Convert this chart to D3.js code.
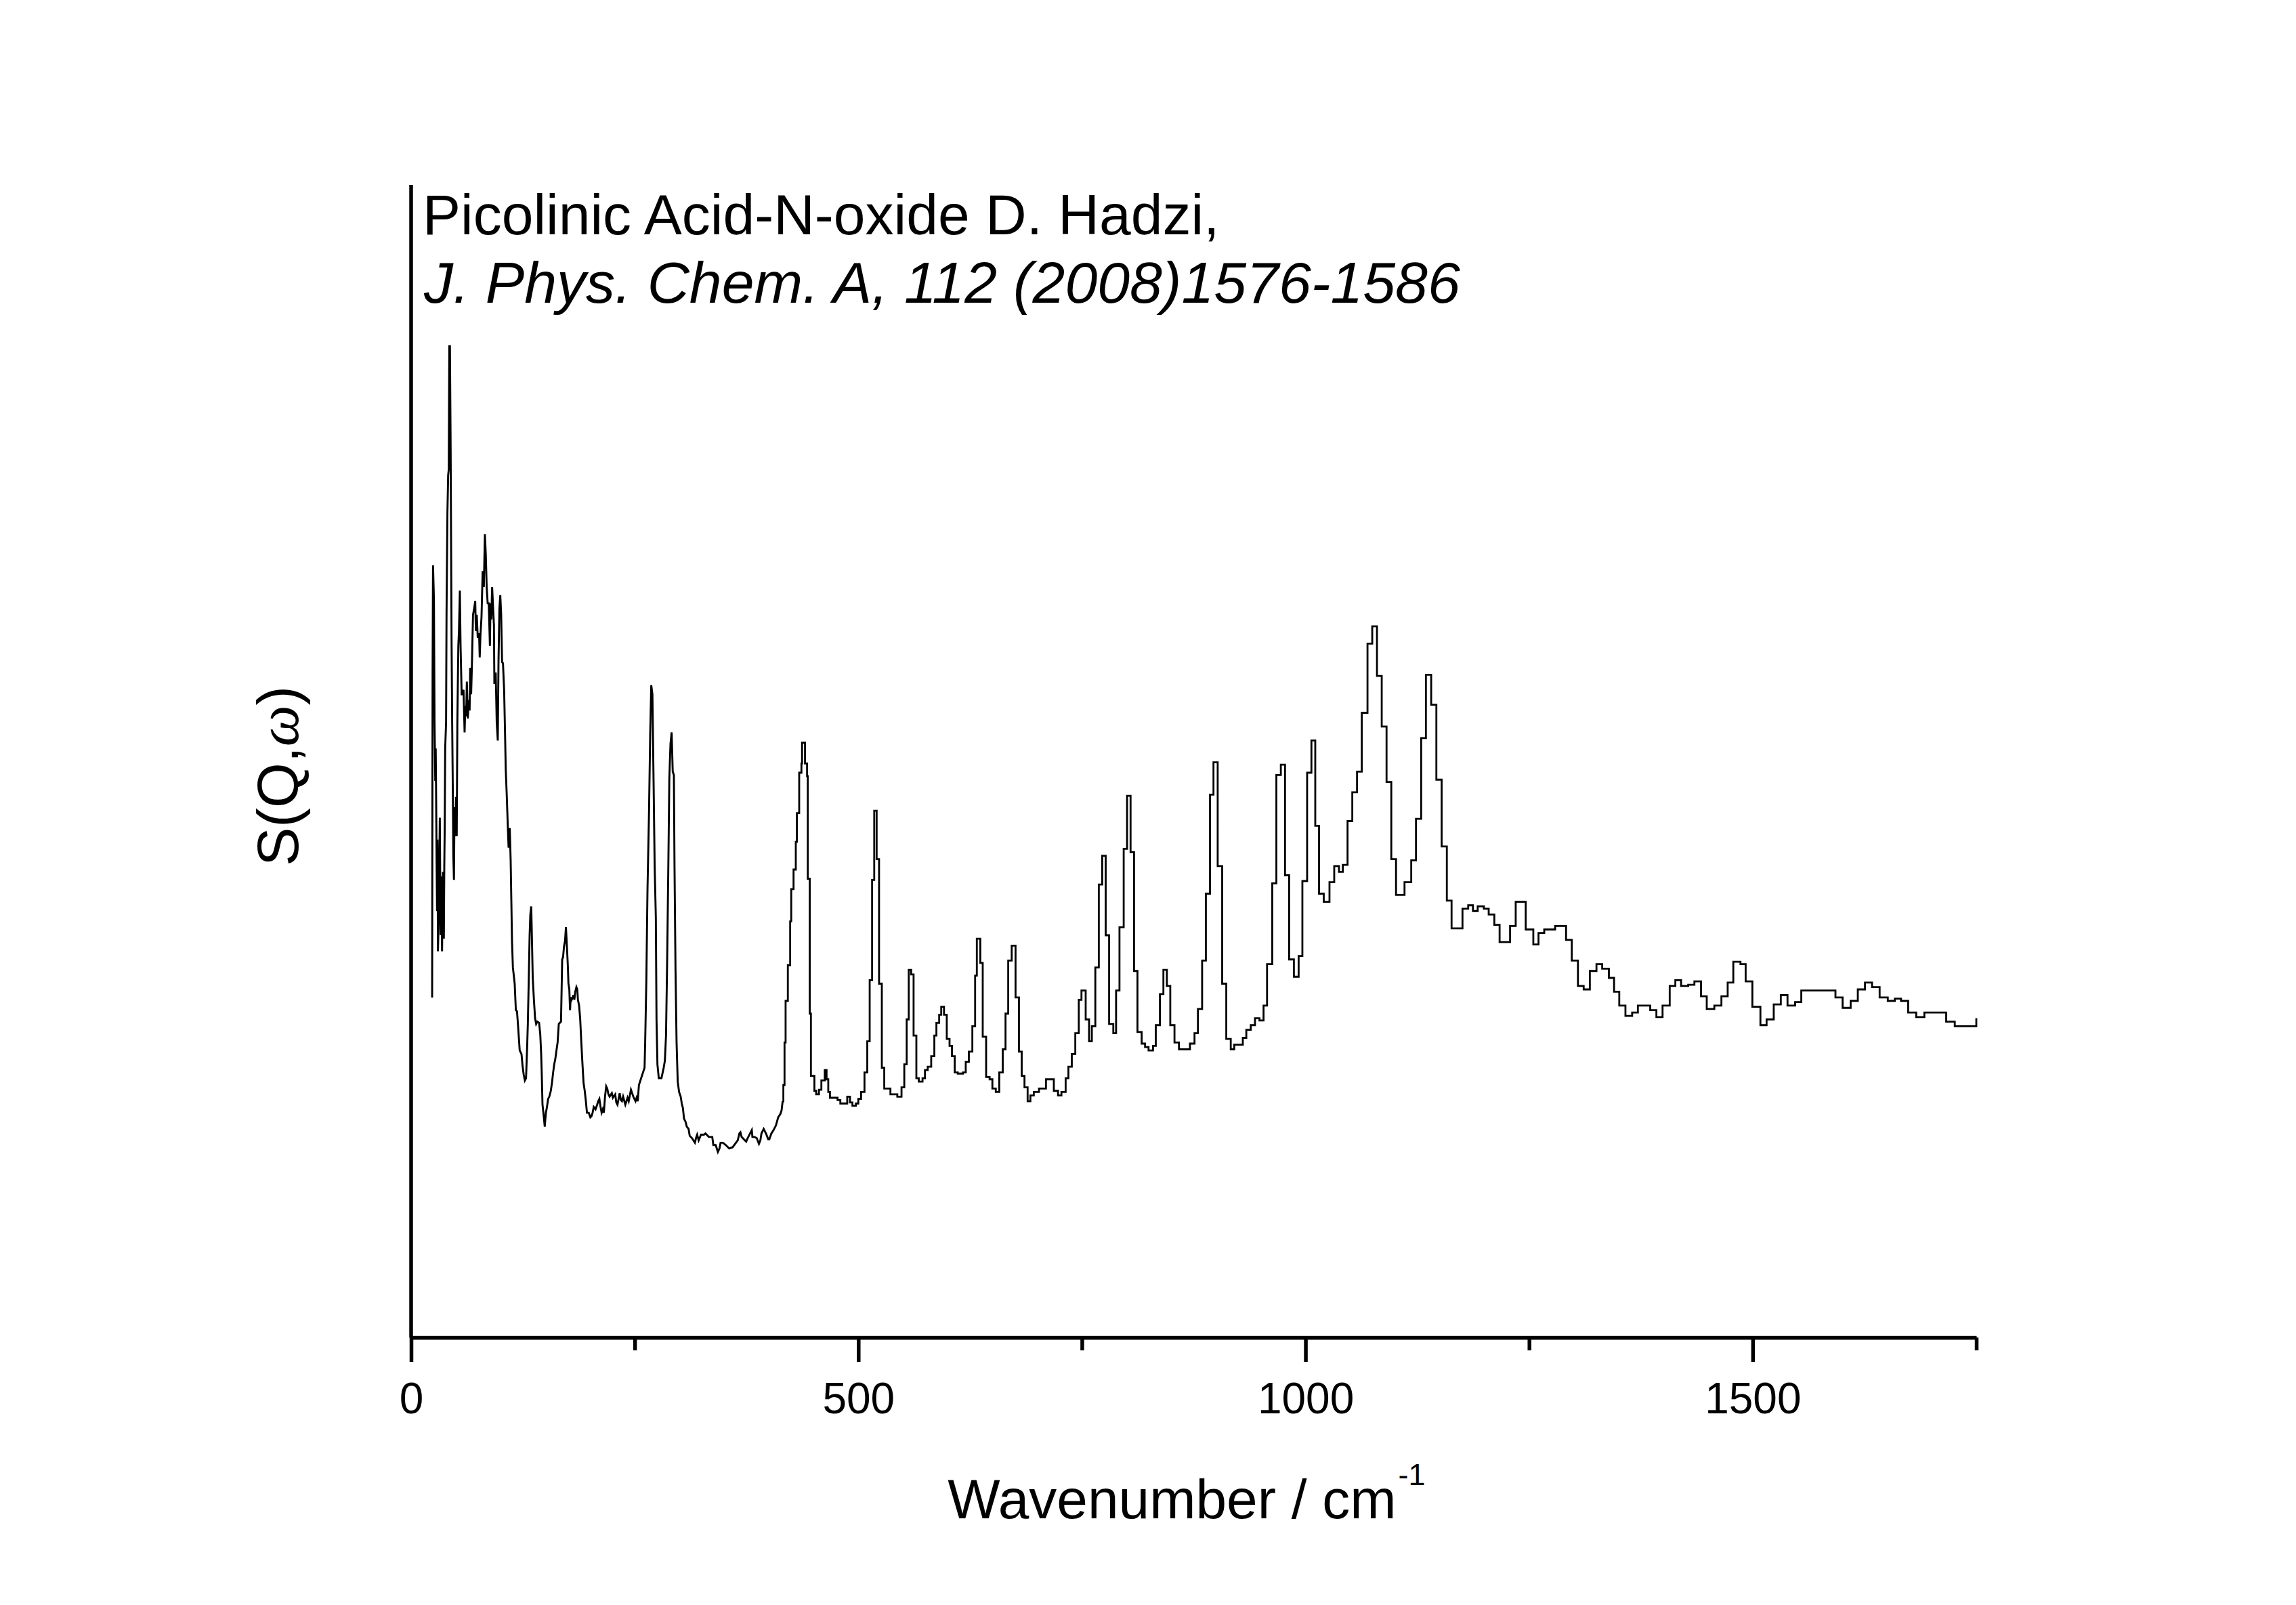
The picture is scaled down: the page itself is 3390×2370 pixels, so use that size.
<!DOCTYPE html>
<html><head><meta charset="utf-8">
<script src="https://cdn.jsdelivr.net/npm/d3@7"></script>
<style>html,body{margin:0;padding:0;background:#fff}</style>
</head><body>
<script>
// ---------------- data ----------------
const titleLine1 = "Picolinic Acid-N-oxide D. Hadzi,";
const titleLine2 = "J. Phys. Chem. A, 112 (2008)1576-1586";
const xLabel = "Wavenumber / cm";
const xLabelSup = "-1";
const xTickValues = [0, 250, 500, 750, 1000, 1250, 1500, 1750];
const xTickLabels = ["0", "", "500", "", "1000", "", "1500", ""];
const xDomain = [0, 1750];
const yDomain = [0, 100];

// fine-resolution part (drawn as a polyline)
const waveLow = [23.5,24.0,24.5,25.5,26.2,27.0,27.5,28.0,28.5,29.0,29.5,30.0,31.0,32.1,32.6,33.1,33.8,34.6,35.6,36.6,37.1,37.6,38.1,39.1,39.6,40.6,41.4,42.1,42.7,43.4,44.2,44.7,45.2,45.9,46.7,47.2,47.9,48.5,49.5,50.2,51.0,51.7,52.8,53.5,54.5,55.3,56.5,57.8,58.6,59.8,60.6,61.6,62.3,63.4,64.4,65.4,66.1,67.1,67.9,69.2,70.4,71.7,72.4,73.4,74.5,76.0,76.7,77.5,78.7,80.0,81.3,82.5,83.5,84.5,85.6,86.8,88.1,88.8,89.6,90.6,91.6,92.6,93.1,94.6,95.7,96.9,97.7,98.7,99.7,100.7,101.7,102.7,104.0,105.0,105.8,107.0,108.3,109.0,110.3,111.3,112.1,112.8,113.8,115.8,117.1,118.4,119.6,121.4,123.4,124.7,125.9,127.2,128.5,129.7,130.5,131.5,132.5,133.3,134.3,135.0,136.0,137.3,138.6,139.8,141.1,143.1,144.4,145.4,146.1,146.9,148.2,149.4,150.7,151.9,153.2,154.5,156.2,157.5,158.8,160.0,161.3,162.5,163.8,165.1,166.3,167.6,168.9,169.9,170.9,172.1,173.1,173.9,175.2,175.9,176.9,177.7,178.4,179.5,180.7,181.5,182.5,183.5,184.8,185.8,186.5,187.8,189.0,190.3,191.6,192.8,194.1,195.4,196.6,198.6,200.4,201.7,202.9,204.2,206.2,208.0,209.2,210.5,211.8,213.0,214.3,215.5,216.8,218.1,219.3,220.6,221.9,224.4,225.6,228.2,229.4,230.7,233.2,234.5,235.7,237.0,239.5,242.0,243.3,245.8,248.4,250.9,252.1,253.4,254.7,257.2,259.7,261.0,261.7,263.0,264.3,266.0,267.3,268.5,269.8,271.1,272.3,273.6,274.4,275.4,276.9,279.9,282.4,283.7,285.0,286.2,287.5,288.7,290.0,291.3,292.5,293.8,294.5,295.6,296.8,298.1,299.6,301.4,302.6,303.9,305.1,306.9,308.2,310.2,311.5,314.0,317.3,318.5,319.8,321.5,324.1,327.4,329.1,332.9,336.7,337.9,340.5,343.0,344.8,346.0,348.6,351.8,355.6,359.4,363.2,365.2,367.0,368.2,369.5,373.3,374.6,376.3,379.6,380.9,381.6,383.9,386.4,388.9,390.5,391.7,394.2,396.8,399.3,400.5,402.8,405.3,407.9,410.4,412.9,414.2,415.4];
const intLow = [29.5,57.4,67.0,64.1,53.4,48.3,51.1,46.5,41.4,37.0,43.2,33.5,36.7,45.1,39.0,34.9,40.0,33.5,40.4,34.6,40.9,44.4,51.1,53.4,62.7,71.6,74.8,75.3,86.0,86.0,77.1,68.8,60.9,53.4,46.9,41.8,39.7,46.0,43.5,46.9,43.5,53.4,60.0,61.3,64.8,60.0,55.8,55.8,56.2,52.5,54.8,53.9,56.9,53.7,55.3,54.4,58.1,55.8,58.1,62.7,63.2,63.9,61.3,62.7,60.7,61.1,59.0,60.9,62.5,66.5,65.1,69.7,67.9,65.1,63.7,63.7,60.0,63.7,62.3,65.1,63.4,61.8,56.7,57.7,53.4,51.8,58.6,63.2,64.4,62.7,58.6,58.5,56.2,52.5,49.3,46.9,43.9,42.5,44.2,41.4,37.7,34.4,32.1,30.7,28.4,28.3,27.0,24.9,24.6,23.5,22.8,22.3,22.5,25.1,27.2,30.9,34.9,36.7,37.4,34.9,31.2,29.3,27.7,27.2,27.4,27.3,26.3,24.6,22.8,20.2,19.3,18.3,19.5,20.0,20.7,20.9,21.4,22.1,23.0,23.7,24.2,24.9,25.6,27.2,27.3,27.4,32.8,33.0,33.9,34.4,35.6,34.4,32.3,30.7,30.2,28.4,29.5,29.3,29.5,29.7,29.3,30.0,30.4,30.2,29.3,28.8,27.7,25.6,23.7,22.1,21.4,20.5,19.5,19.5,19.1,19.2,19.5,20.0,19.8,20.2,20.5,20.7,20.0,19.5,19.8,19.5,20.9,21.8,21.6,21.1,20.9,21.2,20.8,21.1,20.4,20.2,21.2,20.6,20.5,20.9,20.2,20.8,20.5,21.5,20.9,20.5,20.8,20.5,21.9,22.5,23.1,23.4,25.6,31.0,38.9,45.6,52.3,56.6,55.8,48.2,40.9,36.5,27.5,23.7,22.5,22.5,23.4,24.0,26.2,32.3,40.3,48.5,51.5,52.5,49.1,48.8,40.9,32.0,25.6,22.2,21.3,20.9,20.3,19.9,19.0,18.7,18.3,18.1,17.5,17.3,16.9,17.3,17.6,17.1,17.6,17.6,17.7,17.4,17.4,16.7,16.7,16.1,16.4,16.9,16.9,16.7,16.4,16.5,16.9,17.1,17.7,17.8,17.4,17.1,17.0,17.3,17.8,18.0,17.4,17.4,17.3,16.8,17.1,17.7,18.1,17.7,17.2,17.2,17.7,18.0,18.4,19.1,19.4,19.7,20.5];

// binned part (drawn as a histogram-like step line)
const waveHigh = [415.4,416.2,417.5,418.7,421.2,423.8,425.0,427.6,430.1,431.3,433.9,436.4,437.1,440.4,442.7,443.5,445.7,447.0,450.9,452.9,456.0,458.7,462.5,464.5,466.4,468.3,476.8,479.9,487.6,490.7,493.4,497.3,500.0,503.1,506.9,510.0,512.7,515.4,517.8,520.5,523.2,526.3,529.0,535.9,543.6,548.3,551.4,554.1,556.4,559.1,561.8,564.9,567.6,571.8,574.5,577.6,581.5,585.0,587.3,590.4,592.7,595.8,598.9,602.0,604.7,607.8,611.2,617.0,620.1,623.6,627.5,630.6,632.5,636.4,639.1,642.9,646.8,649.9,653.7,657.6,661.5,664.6,667.6,671.5,675.8,679.6,682.7,685.8,689.3,692.4,696.2,702.0,709.8,718.6,723.3,727.1,731.8,734.9,738.7,742.6,746.5,749.5,754.2,758.0,761.1,765.0,768.9,772.7,776.6,780.4,785.1,788.2,792.0,796.7,800.5,804.4,808.3,812.1,816.8,820.6,824.5,829.5,832.6,837.2,841.1,845.0,848.8,853.5,858.5,870.8,875.9,879.7,884.4,888.6,893.2,897.1,901.8,906.8,911.4,916.4,920.3,929.9,933.8,938.8,943.5,948.5,953.1,957.0,962.8,967.4,972.4,977.1,981.7,987.0,992.3,996.5,1001.8,1006.6,1010.9,1015.1,1020.4,1026.8,1032.1,1037.4,1041.7,1047.0,1052.3,1057.6,1062.9,1069.3,1074.6,1079.9,1085.2,1090.6,1095.9,1101.2,1110.7,1118.2,1123.5,1129.3,1134.6,1140.5,1146.3,1152.2,1158.0,1163.3,1175.5,1181.9,1187.2,1192.5,1199.4,1204.8,1211.1,1217.0,1228.7,1235.0,1246.2,1254.7,1260.5,1266.9,1279.1,1291.3,1297.7,1304.6,1311.0,1317.9,1325.3,1331.7,1339.2,1345.0,1350.8,1357.7,1365.2,1371.6,1385.4,1392.3,1399.2,1407.2,1413.5,1419.9,1427.9,1434.8,1442.2,1448.6,1457.1,1465.0,1472.0,1478.3,1486.3,1492.1,1499.6,1508.6,1515.5,1523.5,1531.4,1538.9,1547.4,1554.3,1592.5,1600.5,1609.5,1617.5,1625.5,1633.4,1641.9,1651.0,1658.9,1665.8,1673.8,1682.8,1691.9,1716.3,1725.9,1750.0];
const intHigh = [20.5,21.9,25.6,29.2,32.3,36.1,38.9,40.6,43.0,45.5,49.0,49.8,51.6,49.8,48.7,39.8,28.1,22.7,21.4,21.1,21.5,22.3,23.2,22.4,21.3,20.8,20.6,20.3,20.9,20.4,20.1,20.3,20.7,21.3,23.0,25.7,31.0,39.7,45.7,41.5,30.7,23.4,21.6,21.1,20.9,21.7,23.7,27.6,31.9,31.5,26.2,22.5,22.2,22.5,23.2,23.5,24.4,26.2,27.3,28.0,28.7,28.0,25.9,25.3,24.4,23.0,22.9,23.0,23.9,24.8,27.0,31.4,34.6,32.5,26.1,22.6,22.4,21.6,21.3,23.0,25.0,28.1,32.7,34.0,29.5,24.8,22.7,21.7,20.5,21.0,21.3,21.6,22.4,21.4,21.0,21.3,22.5,23.5,24.6,26.4,29.3,30.1,27.6,25.7,27.0,32.1,39.3,41.8,34.9,27.2,26.4,30.1,35.6,42.4,47.0,42.1,31.8,26.5,25.5,25.2,24.9,25.3,27.1,29.8,31.9,30.5,27.1,25.6,25.0,25.5,26.4,28.5,32.7,38.5,47.1,49.9,40.9,30.7,25.9,25.0,25.4,26.0,26.7,27.1,27.7,27.5,28.8,32.4,39.4,48.8,49.7,40.1,32.8,31.3,33.1,39.6,49.0,51.8,44.4,38.5,37.8,39.5,40.9,40.4,41.0,44.8,47.3,49.1,54.2,60.2,61.7,57.4,53.0,48.2,41.5,38.4,39.5,41.4,45.0,52.0,57.5,54.9,48.4,42.6,37.9,35.5,37.2,37.5,37.0,37.4,37.2,36.7,35.8,34.3,35.7,37.8,35.4,34.1,35.1,35.4,35.7,34.5,32.7,30.5,30.2,31.8,32.4,32.0,31.2,30.0,28.8,27.9,28.2,28.8,28.4,27.8,28.8,30.5,31.0,30.5,30.6,30.9,29.6,28.5,28.8,29.6,30.8,32.6,32.4,30.9,28.7,27.1,27.6,28.9,29.7,28.8,29.1,30.1,29.5,28.6,29.2,30.2,30.8,30.4,29.5,29.2,29.4,29.2,28.2,27.8,28.2,27.4,27.0,27.7];

// ---------------- drawing ----------------
const W = 3390, H = 2370;
const FONT = "'Liberation Sans', Arial, Helvetica, sans-serif";
const svg = d3.select("body").append("svg")
  .attr("width", W).attr("height", H)
  .attr("viewBox", `0 0 ${W} ${H}`)
  .style("background", "#fff");

const x = d3.scaleLinear(xDomain, [607, 2918]);
const y = d3.scaleLinear(yDomain, [1975, 273]);

// spectrum
const lowPts = waveLow.map((w, i) => [w, intLow[i]]);
const highPts = waveHigh.map((w, i) => [w, intHigh[i]]);
svg.append("path").datum(lowPts)
  .attr("fill", "none").attr("stroke", "#000").attr("stroke-width", 2.9)
  .attr("stroke-linejoin", "miter")
  .attr("d", d3.line().x(d => x(d[0])).y(d => y(d[1])).curve(d3.curveLinear));
svg.append("path").datum(highPts)
  .attr("fill", "none").attr("stroke", "#000").attr("stroke-width", 2.8)
  .attr("stroke-linejoin", "miter")
  .attr("d", d3.line().x(d => x(d[0])).y(d => y(d[1])).curve(d3.curveStepAfter));

// x axis
const xAxis = d3.axisBottom(x)
  .tickValues(xTickValues)
  .tickSize(36).tickSizeOuter(0)
  .tickFormat((d, i) => xTickLabels[i]);
const gx = svg.append("g").attr("transform", `translate(0,${y(0)})`).call(xAxis);
gx.select(".domain").attr("stroke", "#000").attr("stroke-width", 5.5);
gx.selectAll(".tick line").attr("stroke", "#000").attr("stroke-width", 5.5)
  .attr("y2", (d, i) => xTickLabels[i] === "" ? 19 : 36);
gx.selectAll(".tick text")
  .attr("y", 112).attr("dy", null)
  .attr("fill", "#000")
  .style("font-family", FONT).style("font-size", "64px");

// y axis (line only, no ticks)
svg.append("line")
  .attr("x1", x(0)).attr("x2", x(0))
  .attr("y1", y(yDomain[1])).attr("y2", y(0))
  .attr("stroke", "#000").attr("stroke-width", 5.5);

// title
svg.append("text").attr("x", 624).attr("y", 346)
  .style("font-family", FONT).style("font-size", "84px")
  .text(titleLine1);
svg.append("text").attr("x", 626).attr("y", 447)
  .style("font-family", FONT).style("font-size", "86px").style("font-style", "italic")
  .text(titleLine2);

// x label
const xt = svg.append("text").attr("x", 1752).attr("y", 2242)
  .attr("text-anchor", "middle")
  .style("font-family", FONT).style("font-size", "82px");
xt.append("tspan").text(xLabel);
xt.append("tspan").attr("dx", 3).attr("dy", -49).style("font-size", "45px").text(xLabelSup);

// y label
const yt = svg.append("text")
  .attr("transform", "translate(440,1146) rotate(-90)")
  .attr("text-anchor", "middle")
  .style("font-family", FONT).style("font-size", "86px");
yt.append("tspan").text("S(Q,");
yt.append("tspan").style("font-family", "'Liberation Serif', 'Times New Roman', serif")
  .style("font-style", "italic").text("ω");
yt.append("tspan").text(")");
</script>
</body></html>
